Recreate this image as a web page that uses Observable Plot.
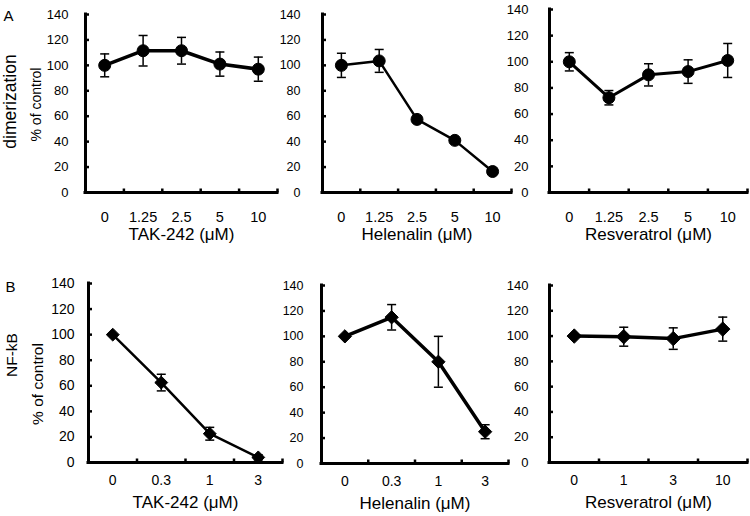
<!DOCTYPE html>
<html>
<head>
<meta charset="utf-8">
<script src="https://cdn.jsdelivr.net/npm/d3@7"></script>
<script src="https://cdn.jsdelivr.net/npm/@observablehq/plot@0.6"></script>
<style>
  html, body { margin: 0; padding: 0; background: white; }
  #root { position: relative; width: 750px; height: 516px; overflow: hidden; background: white; font-family: "Liberation Sans", Arial, sans-serif; }
  #root > svg { position: absolute; }
</style>
</head>
<body>
<div id="root"></div>
<script>
// ---- data ----
const yTicks = [0, 20, 40, 60, 80, 100, 120, 140];

const dosesA = ["0", "1.25", "2.5", "5", "10"];
const takA = [100, 111.5, 111.5, 101, 97];
const takAErr = [9, 12, 10.5, 9.5, 9.5];
const helA = [100, 103.5, 57.5, 41, 16.5];
const helAErr = [9.5, 9, 0, 0, 0];
const resA = [100, 72.5, 90, 92.5, 101];
const resAErr = [7, 5.5, 8.5, 9, 13];

const dosesBTak = ["0", "0.3", "1", "3"];
const takB = [100, 62.5, 22.5, 4];
const takBErr = [0, 6.5, 5, 2];
const dosesBHel = ["0", "0.3", "1", "3"];
const helB = [100, 115, 80, 25];
const helBErr = [0, 10, 20, 5.5];
const dosesBRes = ["0", "1", "3", "10"];
const resB = [100, 99.5, 98, 105.5];
const resBErr = [0, 7.5, 8.5, 9.5];

const titles = ["TAK-242 (μM)", "Helenalin (μM)", "Resveratrol (μM)"];
const yLabel = "% of control";
const rowLabels = ["dimerization", "NF-kB"];
const panelLetters = ["A", "B"];

// ---- custom symbols ----
const capSym = {draw(ctx, size) { const w = Math.sqrt(size / Math.PI); ctx.moveTo(-w, 0); ctx.lineTo(w, 0); }};
const vTickSym = {draw(ctx, size) { const w = Math.sqrt(size / Math.PI); ctx.moveTo(0, 0); ctx.lineTo(0, -w); }};
const hTickSym = {draw(ctx, size) { const w = Math.sqrt(size / Math.PI); ctx.moveTo(0, 0); ctx.lineTo(w, 0); }};

const ML = 60, MR = 8, MT = 14, MB = 62;
const root = document.getElementById("root");

function panel(cfg) {
  const {doses, values, errors, title, symbol, r, lw, x0, x1, yTop, y0,
         tickPad, yFont, xFont, xPad, titleDy, extra = []} = cfg;
  const n = doses.length;
  const rows = doses.map((d, i) => ({i, dose: d, v: values[i], e: errors[i]}));
  const withErr = rows.filter(d => d.e > 0);
  const bounds = d3.range(n).map(i => i + 0.5);
  const chart = Plot.plot({
    width: x1 - x0 + ML + MR,
    height: y0 - yTop + MT + MB,
    marginLeft: ML, marginRight: MR, marginTop: MT, marginBottom: MB,
    x: {type: "linear", domain: [-0.5, n - 0.5]},
    y: {domain: [0, 140]},
    style: {background: "transparent", overflow: "visible", color: "black",
            fontFamily: "'Liberation Sans', Arial, sans-serif", maxWidth: "none"},
    marks: [
      Plot.line(rows, {x: "i", y: "v", stroke: "black", strokeWidth: lw}),
      Plot.ruleX(withErr, {x: "i", y1: d => d.v - d.e, y2: d => d.v + d.e, stroke: "black", strokeWidth: 1.5}),
      Plot.dot(withErr, {x: "i", y: d => d.v + d.e, symbol: capSym, r: 4.5, fill: "none", stroke: "black", strokeWidth: 1.5}),
      Plot.dot(withErr, {x: "i", y: d => d.v - d.e, symbol: capSym, r: 4.5, fill: "none", stroke: "black", strokeWidth: 1.5}),
      Plot.dot(rows, {x: "i", y: "v", symbol, r, fill: "black", stroke: "black", strokeWidth: 1}),
      Plot.ruleY([0], {stroke: "black", strokeWidth: 3, strokeLinecap: "square"}),
      Plot.ruleX([-0.5], {stroke: "black", strokeWidth: 3, strokeLinecap: "square"}),
      Plot.dot(bounds, {x: d => d, y: () => 0, symbol: vTickSym, r: 4, fill: "none", stroke: "black", strokeWidth: 2.5}),
      Plot.dot(yTicks, {x: () => -0.5, y: d => d, symbol: hTickSym, r: 3.5, fill: "none", stroke: "black", strokeWidth: 2.5}),
      Plot.axisY(yTicks, {tickSize: 0, tickPadding: tickPad, fontSize: yFont, label: null}),
      Plot.axisX(d3.range(n), {tickSize: 0, tickPadding: xPad, fontSize: xFont, label: null, tickFormat: i => doses[i]}),
      Plot.text([title], {frameAnchor: "bottom", dy: titleDy, fontSize: 17}),
      ...extra
    ]
  });
  chart.style.left = (x0 - ML) + "px";
  chart.style.top = (yTop - MT) + "px";
  root.appendChild(chart);
}

// Row A
panel({doses: dosesA, values: takA, errors: takAErr, title: titles[0], symbol: "circle", r: 6, lw: 3.5,
  x0: 85, x1: 277, yTop: 14, y0: 192, tickPad: 17, yFont: 13, xFont: 14.5, xPad: 19, titleDy: 47,
  extra: [
    Plot.text([rowLabels[0]], {frameAnchor: "left", textAnchor: "middle", dx: -75, dy: -2, rotate: -90, fontSize: 17.5}),
    Plot.text([yLabel], {frameAnchor: "left", textAnchor: "middle", dx: -49, dy: 1, rotate: -90, fontSize: 14}),
    Plot.text([panelLetters[0]], {frameAnchor: "top-left", textAnchor: "middle", dx: -77, dy: -4, fontSize: 15})
  ]});
panel({doses: dosesA, values: helA, errors: helAErr, title: titles[1], symbol: "circle", r: 6, lw: 2.5,
  x0: 322, x1: 511, yTop: 14, y0: 192, tickPad: 22, yFont: 12.5, xFont: 14.5, xPad: 19, titleDy: 47});
panel({doses: dosesA, values: resA, errors: resAErr, title: titles[2], symbol: "circle", r: 6, lw: 3,
  x0: 549, x1: 747, yTop: 9, y0: 192, tickPad: 21, yFont: 13, xFont: 14.5, xPad: 19, titleDy: 47});

// Row B
panel({doses: dosesBTak, values: takB, errors: takBErr, title: titles[0], symbol: "diamond2", r: 5.8, lw: 2.5,
  x0: 88, x1: 282, yTop: 283, y0: 462, tickPad: 14, yFont: 14, xFont: 14, xPad: 13, titleDy: 45,
  extra: [
    Plot.text([rowLabels[1]], {frameAnchor: "left", textAnchor: "middle", dx: -76, dy: -18, rotate: -90, fontSize: 15.5}),
    Plot.text([yLabel], {frameAnchor: "left", textAnchor: "middle", dx: -50, dy: 11, rotate: -90, fontSize: 15.5}),
    Plot.text([panelLetters[1]], {frameAnchor: "top-left", textAnchor: "middle", dx: -78, dy: -2, fontSize: 15})
  ]});
panel({doses: dosesBHel, values: helB, errors: helBErr, title: titles[1], symbol: "diamond2", r: 6, lw: 3.5,
  x0: 321, x1: 508, yTop: 285, y0: 463, tickPad: 18, yFont: 12.5, xFont: 14, xPad: 13, titleDy: 45});
panel({doses: dosesBRes, values: resB, errors: resBErr, title: titles[2], symbol: "diamond2", r: 6.5, lw: 3.5,
  x0: 549, x1: 747, yTop: 285, y0: 462, tickPad: 21, yFont: 13, xFont: 14, xPad: 13, titleDy: 45});
</script>
</body>
</html>
